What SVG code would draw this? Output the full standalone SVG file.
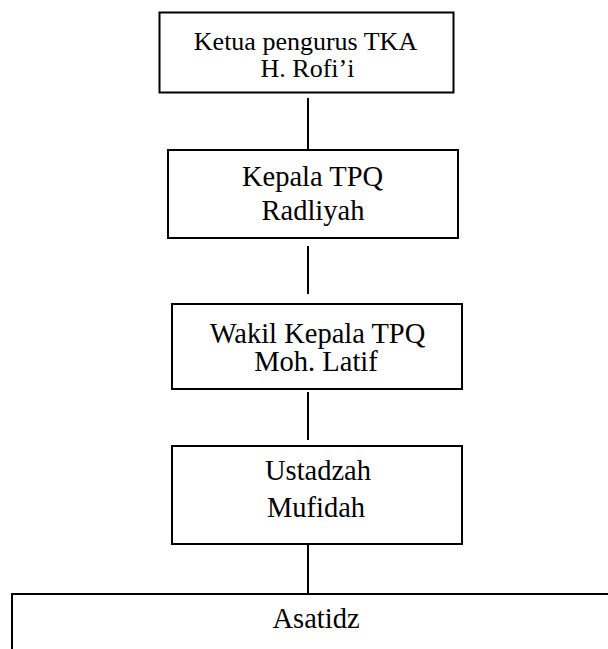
<svg xmlns="http://www.w3.org/2000/svg" width="608" height="649" viewBox="0 0 608 649">
<style>
.box{fill:#fff;stroke:#000;stroke-width:2}
.ln{stroke:#000;stroke-width:2;fill:none}
text{font-family:"Liberation Serif","Times New Roman",serif;fill:#000;text-anchor:middle}
.t1{font-size:26px}
.t{font-size:28.5px}
</style>
<rect width="608" height="649" fill="#fff"/>
<g id="connectors">
<line class="ln" x1="308" y1="98" x2="308" y2="150"/>
<line class="ln" x1="308" y1="246" x2="308" y2="294"/>
<line class="ln" x1="308" y1="392" x2="308" y2="440"/>
<line class="ln" x1="308" y1="545" x2="308" y2="594"/>
</g>
<g id="ketua">
<rect class="box" x="159.5" y="12.5" width="294" height="80"/>
<text class="t1" x="305.5" y="50">Ketua pengurus TKA</text>
<text class="t1" x="307.5" y="77">H. Rofi’i</text>
</g>
<g id="kepala">
<rect class="box" x="168" y="150" width="290" height="88"/>
<text class="t" x="312.5" y="186">Kepala TPQ</text>
<text class="t" x="313" y="220">Radliyah</text>
</g>
<g id="wakil">
<rect class="box" x="172" y="304" width="290" height="85"/>
<text class="t" x="317.5" y="342.5">Wakil Kepala TPQ</text>
<text class="t" x="316" y="370.5">Moh. Latif</text>
</g>
<g id="ustadzah">
<rect class="box" x="172" y="446" width="290" height="98"/>
<text class="t" x="318" y="480">Ustadzah</text>
<text class="t" x="316" y="517">Mufidah</text>
</g>
<g id="asatidz">
<path class="ln" d="M12,660 V594 H620"/>
<text class="t" x="316" y="628">Asatidz</text>
</g>
</svg>
